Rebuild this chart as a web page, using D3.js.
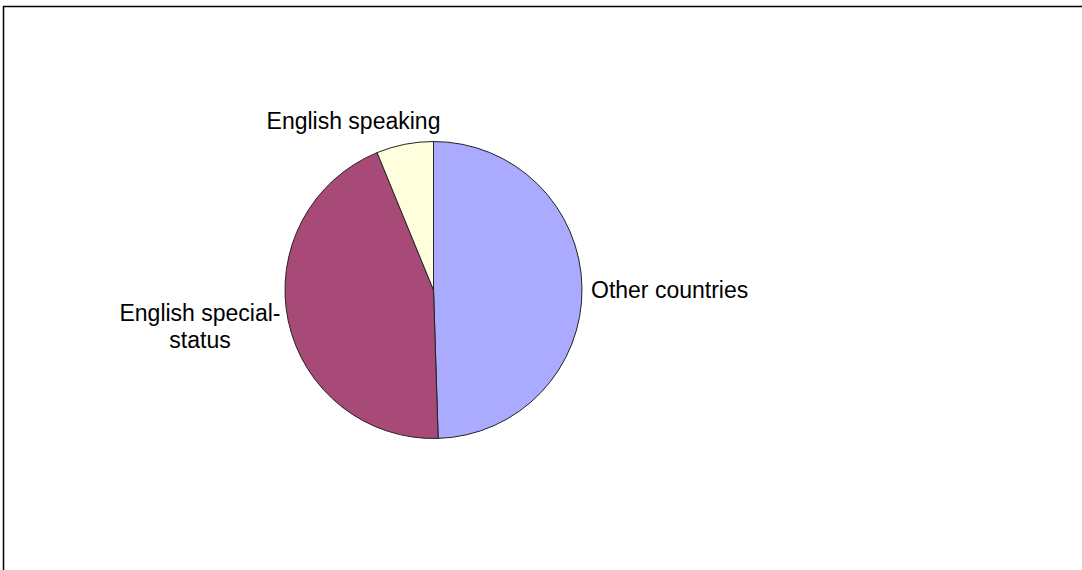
<!DOCTYPE html>
<html><head><meta charset="utf-8">
<script src="https://cdn.jsdelivr.net/npm/d3@7"></script>
<style>html,body{margin:0;padding:0;background:#fff;}svg{display:block;}</style>
</head><body>
<svg id="chart" width="1082" height="570"></svg>
<script>
const categories = ["Other countries", "English special-status", "English speaking"];
const values = [49.5, 44.3, 6.2];
const colors = ["#AAAAFF", "#A84A78", "#FFFFDD"];
const labelLines = [["Other countries"], ["English special-", "status"], ["English speaking"]];

const svg = d3.select("#chart");
// chart frame
svg.append("path").attr("d", "M3.5,570 V6.5 H1082").attr("fill","none").attr("stroke","#000").attr("stroke-width",1.5);

const cx = 433.5, cy = 290, r = 148.5;
const pie = d3.pie().sort(null).value(d => d)(values);
const arc = d3.arc().innerRadius(0).outerRadius(r);
const g = svg.append("g").attr("transform", `translate(${cx},${cy})`);
g.selectAll("path").data(pie).join("path")
  .attr("d", arc).attr("fill", (d,i) => colors[i])
  .attr("stroke", "#222").attr("stroke-width", 1).attr("stroke-linejoin","round");

// labels
const labelPos = [
  {x: 591, y: 290, anchor: "start"},
  {x: 200, y: 313, anchor: "middle"},
  {x: 353.5, y: 121, anchor: "middle"}
];
const lg = svg.append("g").attr("font-family", "'Liberation Sans', Arial, sans-serif").attr("font-size", 23).attr("fill", "#000");
labelLines.forEach((lines, i) => {
  const p = labelPos[i];
  const t = lg.append("text").attr("x", p.x).attr("y", p.y).attr("text-anchor", p.anchor).attr("dominant-baseline","central");
  lines.forEach((ln, j) => t.append("tspan").attr("x", p.x).attr("dy", j === 0 ? 0 : 27).text(ln));
});
</script>
</body></html>
